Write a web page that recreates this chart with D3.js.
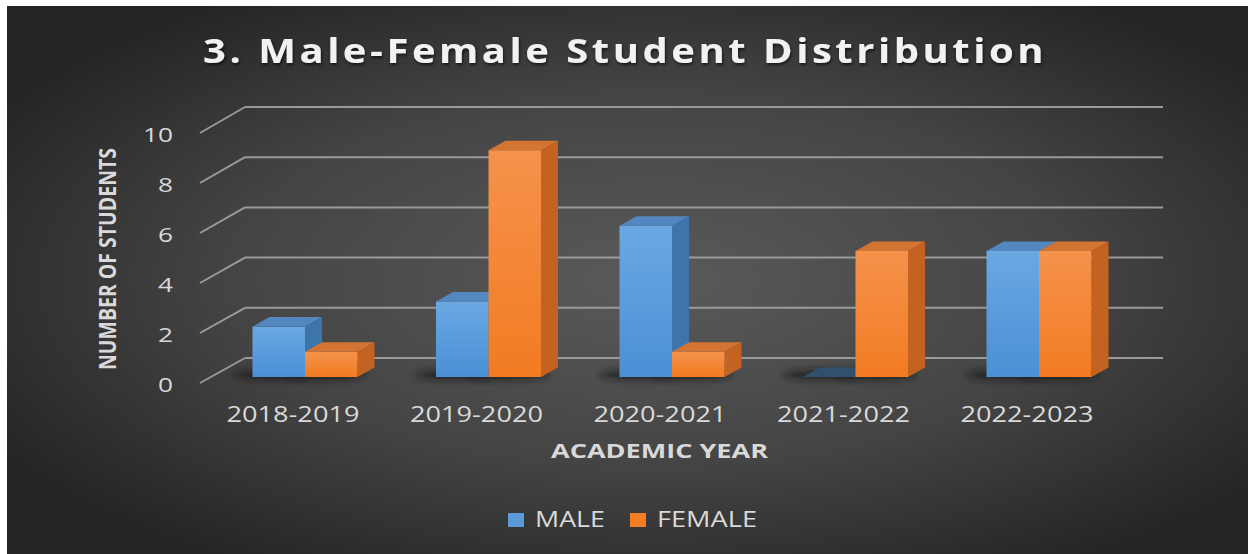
<!DOCTYPE html>
<html>
<head>
<meta charset="utf-8">
<script src="https://cdn.jsdelivr.net/npm/d3@7"></script>
<style>
  html, body { margin: 0; padding: 0; background: #ffffff; }
  svg { display: block; }
</style>
</head>
<body>
<svg id="chart" width="1248" height="554"></svg>
<script>
// Student counts per academic year
const categories = ["2018-2019", "2019-2020", "2020-2021", "2021-2022", "2022-2023"];
const maleValues = [2, 3, 6, 0, 5];
const femaleValues = [1, 9, 1, 5, 5];
const seriesNames = ["MALE", "FEMALE"];
const yTickValues = [0, 2, 4, 6, 8, 10];

const svg = d3.select("#chart");
const defs = svg.append("defs");

// Panel background: dark radial gradient
const bg = defs.append("radialGradient").attr("id", "bgGrad")
  .attr("cx", "52%").attr("cy", "50%").attr("r", "62%");
bg.append("stop").attr("offset", "0%").attr("stop-color", "#5a5a5a");
bg.append("stop").attr("offset", "55%").attr("stop-color", "#444444");
bg.append("stop").attr("offset", "100%").attr("stop-color", "#242424");

function vGrad(id, top, bottom) {
  const g = defs.append("linearGradient").attr("id", id)
    .attr("x1", 0).attr("y1", 0).attr("x2", 0).attr("y2", 1);
  g.append("stop").attr("offset", "0%").attr("stop-color", top);
  g.append("stop").attr("offset", "100%").attr("stop-color", bottom);
}
vGrad("maleFront", "#6aa8e2", "#4a90d6");
vGrad("femaleFront", "#f5924c", "#f27b22");

const blur = defs.append("filter").attr("id", "shadowBlur")
  .attr("x", "-50%").attr("y", "-200%").attr("width", "200%").attr("height", "500%");
blur.append("feGaussianBlur").attr("stdDeviation", 3.5);

const textShadow = defs.append("filter").attr("id", "textShadow")
  .attr("x", "-10%").attr("y", "-30%").attr("width", "120%").attr("height", "160%");
textShadow.append("feDropShadow").attr("dx", 1).attr("dy", 2)
  .attr("stdDeviation", 1.5).attr("flood-color", "#000").attr("flood-opacity", 0.6);

svg.append("rect").attr("x", 7).attr("y", 6).attr("width", 1241).attr("height", 548)
  .attr("fill", "url(#bgGrad)");

// Title
svg.append("text")
  .attr("x", 203).attr("y", 63)
  .attr("letter-spacing", 3)
  .attr("textLength", 844).attr("lengthAdjust", "spacingAndGlyphs")
  .attr("font-family", "'Open Sans', sans-serif").attr("font-weight", 700)
  .attr("font-size", 34).attr("fill", "#f2f2f2")
  .attr("filter", "url(#textShadow)")
  .text("3. Male-Female Student Distribution");

// Scales
const yBack = d3.scaleLinear().domain([0, 10]).range([358, 107]);
const yFront = d3.scaleLinear().domain([0, 10]).range([383, 133]);
const yBar = d3.scaleLinear().domain([0, 10]).range([377, 125]);
const xGroup = d3.scalePoint().domain(categories).range([305, 1039]);
const xSeries = d3.scaleBand().domain(seriesNames).range([-52.5, 52.5]);

const wallLeft = 245, wallRight = 1163, sideFront = 200;
const depthX = 17, depthY = -9.5;

// Back-wall gridlines and side-wall slants
const grid = svg.append("g");
yTickValues.forEach(v => {
  grid.append("line")
    .attr("x1", wallLeft).attr("x2", wallRight)
    .attr("y1", yBack(v)).attr("y2", yBack(v))
    .attr("stroke", "#9a9a9a").attr("stroke-width", 2);
  grid.append("line")
    .attr("x1", sideFront).attr("y1", yFront(v))
    .attr("x2", wallLeft).attr("y2", yBack(v))
    .attr("stroke", "#9a9a9a").attr("stroke-width", 2);
});

// Value axis labels
svg.append("g").selectAll("text").data(yTickValues).join("text")
  .attr("x", 173).attr("y", d => yFront(d) + 2)
  .attr("dy", "0.35em").attr("text-anchor", "end")
  .attr("textLength", d => String(d).length * 15)
  .attr("lengthAdjust", "spacingAndGlyphs")
  .attr("font-family", "'Open Sans', sans-serif").attr("font-size", 20)
  .attr("fill", "#d9d9d9")
  .text(d => d);

svg.append("text")
  .attr("transform", "translate(116,259) rotate(-90)")
  .attr("text-anchor", "middle")
  .attr("textLength", 222).attr("lengthAdjust", "spacingAndGlyphs")
  .attr("font-family", "'Open Sans', sans-serif").attr("font-weight", 700)
  .attr("font-size", 23).attr("fill", "#d9d9d9")
  .text("NUMBER OF STUDENTS");

// Bars
const rows = [];
categories.forEach((c, i) => {
  rows.push({ cat: c, series: "MALE", value: maleValues[i] });
  rows.push({ cat: c, series: "FEMALE", value: femaleValues[i] });
});
const barW = xSeries.bandwidth();

const shadows = svg.append("g");
rows.forEach(d => {
  const x0 = xGroup(d.cat) + xSeries(d.series);
  shadows.append("ellipse")
    .attr("cx", x0 + barW / 2 - 6).attr("cy", yBar(0) - 2)
    .attr("rx", barW / 2 + 14).attr("ry", 5)
    .attr("fill", "#141414").attr("opacity", 0.7)
    .attr("filter", "url(#shadowBlur)");
});

const colors = {
  MALE: { front: "url(#maleFront)", side: "#3d74aa", top: "#5288bf", flat: "#2f506f" },
  FEMALE: { front: "url(#femaleFront)", side: "#c46222", top: "#d47433", flat: "#8a4a1f" }
};

const bars = svg.append("g");
rows.forEach(d => {
  const x0 = xGroup(d.cat) + xSeries(d.series);
  const x1 = x0 + barW;
  const yt = yBar(d.value), yb = yBar(0);
  const c = colors[d.series];
  const g = bars.append("g");
  if (d.value > 0) {
    g.append("polygon")
      .attr("points", [[x1, yt], [x1 + depthX, yt + depthY], [x1 + depthX, yb + depthY], [x1, yb]].join(" "))
      .attr("fill", c.side);
    g.append("rect").attr("x", x0).attr("y", yt)
      .attr("width", barW).attr("height", yb - yt).attr("fill", c.front);
  }
  g.append("polygon")
    .attr("points", [[x0, yt], [x0 + depthX, yt + depthY], [x1 + depthX, yt + depthY], [x1, yt]].join(" "))
    .attr("fill", d.value > 0 ? c.top : c.flat);
});

// Category labels
svg.append("g").selectAll("text").data(categories).join("text")
  .attr("x", d => xGroup(d) - 12).attr("y", 422)
  .attr("text-anchor", "middle")
  .attr("textLength", 133).attr("lengthAdjust", "spacingAndGlyphs")
  .attr("font-family", "'Open Sans', sans-serif").attr("font-size", 21)
  .attr("fill", "#d9d9d9")
  .text(d => d);

svg.append("text")
  .attr("x", 551).attr("y", 458)
  .attr("textLength", 217).attr("lengthAdjust", "spacingAndGlyphs")
  .attr("font-family", "'Open Sans', sans-serif").attr("font-weight", 700)
  .attr("font-size", 20).attr("fill", "#d9d9d9")
  .text("ACADEMIC YEAR");

// Legend
const legendItems = [
  { name: "MALE", color: "#5b9bd5", box: 508, tx: 535, tw: 70 },
  { name: "FEMALE", color: "#f47e24", box: 630, tx: 657, tw: 100 }
];
const legend = svg.append("g");
legendItems.forEach(it => {
  legend.append("rect").attr("x", it.box).attr("y", 513)
    .attr("width", 16).attr("height", 14).attr("fill", it.color);
  legend.append("text").attr("x", it.tx).attr("y", 527)
    .attr("textLength", it.tw).attr("lengthAdjust", "spacingAndGlyphs")
    .attr("font-family", "'Open Sans', sans-serif").attr("font-size", 21)
    .attr("fill", "#d9d9d9")
    .text(it.name);
});
</script>
</body>
</html>
